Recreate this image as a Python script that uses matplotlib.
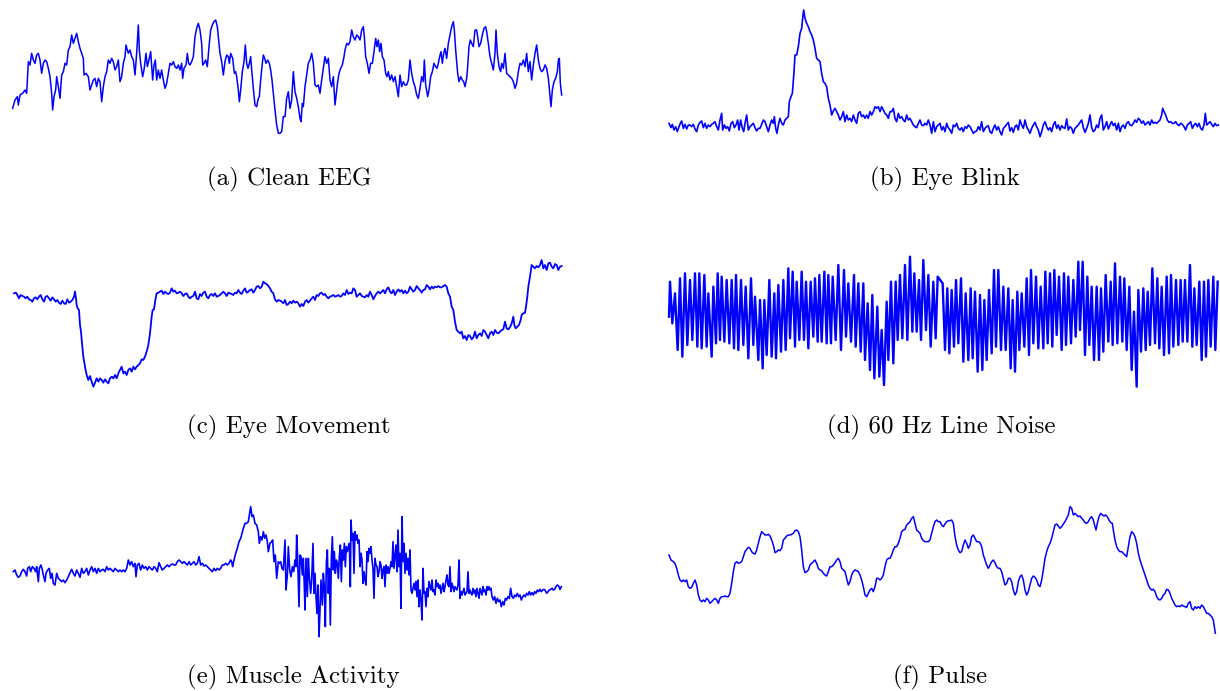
import matplotlib
matplotlib.use("Agg")
import matplotlib.pyplot as plt

# Each trace: (time, amplitude) samples (arbitrary units,
# amplitude grows downward as in screen units).
clean_eeg = [(8,295),(15,270),(22,260),(25,285),(30,255),(38,250),(45,240),(50,250),(55,155),(60,165),(65,130),(70,150),(75,160),(80,135),(85,130),(90,150),(95,190),(100,160),(105,150),(110,155),(115,175),(120,200),(125,250),(128,300),(132,260),(137,240),(140,200),(145,230),(150,265),(155,195),(160,185),(165,160),(170,165),(175,120),(180,110),(185,75),(190,100),(195,85),(200,70),(205,95),(210,115),(215,130),(220,145),(222,195),(228,190),(235,200),(240,240),(245,225),(250,210),(255,205),(260,230),(265,205),(270,215),(275,275),(280,230),(285,200),(290,185),(295,150),(300,160),(305,145),(310,155),(315,180),(320,170),(325,150),(330,215),(335,200),(340,160),(345,140),(348,105),(355,130),(360,120),(365,140),(370,150),(375,195),(380,130),(385,45),(388,120),(392,160),(398,200),(402,180),(408,130),(412,170),(418,145),(422,125),(428,210),(432,165),(436,150),(440,210),(445,180),(450,205),(455,180),(460,210),(465,235),(470,220),(475,190),(480,160),(485,165),(490,155),(495,170),(500,175),(505,165),(510,180),(515,160),(518,205),(522,175),(528,165),(532,130),(536,160),(540,165),(545,155),(550,140),(555,80),(560,55),(565,40),(570,60),(575,100),(578,165),(582,160),(587,150),(592,170),(597,110),(602,60),(607,45),(612,35),(617,30),(622,50),(626,90),(630,130),(635,155),(640,195),(645,155),(650,135),(655,140),(658,160),(662,130),(668,145),(673,190),(677,185),(680,200),(685,240),(688,275),(692,240),(697,185),(702,155),(706,105),(710,160),(714,175),(718,160),(722,140),(725,180),(730,235),(735,285),(740,290),(745,265),(748,260),(752,210),(757,160),(760,135),(764,145),(768,160),(773,150),(778,160),(782,180),(786,210),(790,250),(795,300),(800,345),(805,370),(810,370),(815,365),(820,320),
(825,320),(830,265),(835,245),(840,295),(845,270),(850,185),(855,245),(860,265),(865,290),(870,325),(873,335),(877,280),(880,290),(885,230),(890,195),(895,160),(900,150),(905,130),(910,160),(915,225),(920,230),(925,225),(930,250),(935,210),(940,175),(945,140),(950,160),(955,145),(960,210),(965,230),(970,200),(975,285),(980,240),(983,215),(987,190),(992,175),(997,165),(1002,140),(1005,120),(1010,100),(1015,105),(1020,95),(1025,60),(1030,80),(1035,90),(1040,75),(1045,80),(1050,90),(1055,60),(1060,50),(1063,80),(1067,140),(1072,160),(1077,190),(1082,160),(1087,160),(1092,125),(1097,85),(1101,110),(1105,90),(1109,125),(1113,100),(1117,140),(1122,150),(1127,190),(1131,200),(1135,185),(1140,210),(1145,195),(1150,215),(1155,200),(1160,230),(1165,260),(1170,195),(1175,230),(1180,215),(1185,225),(1190,225),(1195,210),(1200,150),(1205,190),(1210,215),(1215,230),(1220,255),(1225,265),(1230,235),(1235,200),(1240,215),(1243,150),(1247,225),(1253,260),(1257,240),(1262,200),(1267,185),(1272,160),(1277,170),(1281,175),(1285,160),(1289,140),(1293,125),(1297,160),(1301,130),(1305,115),(1310,145),(1315,100),(1320,75),(1325,50),(1330,35),(1333,60),(1337,120),(1343,190),(1347,215),(1352,200),(1357,210),(1361,215),(1365,230),(1370,205),(1373,170),(1377,110),(1381,90),(1385,100),(1390,110),(1395,60),(1400,60),(1403,80),(1407,110),(1412,100),(1417,75),(1422,55),(1427,50),(1430,65),(1435,100),(1440,140),(1445,160),(1450,180),(1455,130),(1458,60),(1462,130),(1467,170),(1472,185),(1475,160),(1480,175),(1485,130),(1490,190),(1495,195),(1500,200),(1505,205),(1510,215),(1515,235),(1520,220),(1525,185),(1530,160),(1535,165),(1540,150),(1545,170),(1550,130),(1555,185),(1560,155),(1565,210),(1570,165),(1575,130),(1580,105),(1585,150),(1590,175),(1595,185),(1600,180),(1605,165),(1610,175),(1615,205),(1620,260),(1623,290),(1627,240),(1632,215),(1637,205),(1642,185),(1645,150),(1648,145),(1651,220),(1655,255)]

eye_blink = [(12,355),(18,368),(22,358),(27,375),(32,365),(37,380),(42,365),(46,355),(50,348),(55,370),(60,358),(65,372),(70,360),(75,360),(80,365),(85,358),(90,372),(95,380),(100,360),(105,352),(110,348),(115,368),(120,355),(125,370),(130,360),(135,365),(140,358),(145,355),(150,350),(155,365),(160,375),(165,345),(170,325),(173,375),(178,360),(183,370),(188,365),(193,378),(198,355),(203,350),(208,368),(213,360),(218,345),(222,375),(227,345),(232,370),(236,380),(240,355),(245,330),(250,375),(255,365),(260,360),(265,355),(270,368),(275,378),(280,370),(285,370),(290,358),(295,345),(300,350),(305,365),(310,380),(315,360),(320,345),(325,355),(328,335),(332,370),(336,385),(340,360),(345,340),(350,355),(355,360),(360,345),(365,340),(370,335),(373,290),(378,275),(382,265),(386,215),(390,150),(395,150),(400,125),(405,85),(410,70),(413,40),(416,15),(420,40),(425,55),(430,65),(435,80),(440,90),(445,105),(450,130),(455,160),(460,165),(465,170),(470,205),(475,230),(480,235),(485,245),(490,280),(495,300),(500,330),(505,318),(510,310),(515,320),(520,330),(525,345),(530,335),(535,320),(540,350),(545,330),(550,345),(555,340),(560,350),(565,330),(570,345),(575,355),(580,325),(585,320),(590,335),(595,330),(600,340),(605,330),(610,340),(615,320),(620,330),(625,320),(630,305),(635,310),(640,305),(645,320),(650,305),(655,315),(660,325),(665,330),(670,340),(675,320),(680,320),(685,310),(690,340),(695,350),(700,325),(705,340),(710,335),(715,345),(720,350),(725,330),(730,345),(735,340),(740,350),(745,360),(750,365),(755,368),(760,355),(765,345),(770,360),(775,362),(780,355),(785,360),(790,345),(795,360),(800,385),(805,350),(810,380),(815,365),(820,360),
(825,355),(830,375),(835,365),(840,380),(845,355),(850,368),(855,375),(860,385),(865,360),(870,365),(875,355),(880,370),(885,375),(890,368),(895,380),(900,365),(905,370),(910,360),(915,365),(920,375),(925,385),(930,380),(935,378),(940,365),(945,375),(950,350),(955,380),(960,370),(965,365),(970,362),(975,380),(980,385),(985,370),(990,360),(995,375),(1000,365),(1005,380),(1010,390),(1015,370),(1020,365),(1025,358),(1030,352),(1035,378),(1040,368),(1045,382),(1050,365),(1055,360),(1060,375),(1065,345),(1070,360),(1075,370),(1080,345),(1085,365),(1090,375),(1095,385),(1100,370),(1105,360),(1110,352),(1115,365),(1120,375),(1125,395),(1130,380),(1135,360),(1140,350),(1145,365),(1150,375),(1155,368),(1160,380),(1165,360),(1170,350),(1175,370),(1180,360),(1185,375),(1190,362),(1195,368),(1200,370),(1205,342),(1210,375),(1215,365),(1220,370),(1225,385),(1230,370),(1235,365),(1240,360),(1245,352),(1250,345),(1255,368),(1260,382),(1265,370),(1270,355),(1275,330),(1280,368),(1285,380),(1290,375),(1295,360),(1300,368),(1305,340),(1310,330),(1315,375),(1320,365),(1325,350),(1330,372),(1335,360),(1340,350),(1345,362),(1350,355),(1355,375),(1360,355),(1365,380),(1370,365),(1375,360),(1380,370),(1385,355),(1390,350),(1395,360),(1400,362),(1405,355),(1410,345),(1415,352),(1420,340),(1425,345),(1430,355),(1435,348),(1440,360),(1445,355),(1450,350),(1455,360),(1460,345),(1465,355),(1470,352),(1475,355),(1480,350),(1485,345),(1490,330),(1493,310),(1497,320),(1502,330),(1507,345),(1512,352),(1517,350),(1522,355),(1527,355),(1532,350),(1537,358),(1542,362),(1547,355),(1552,358),(1557,365),(1562,375),(1567,360),(1572,355),(1577,350),(1582,370),(1587,360),(1592,355),(1597,365),(1602,355),(1607,370),(1612,375),(1617,360),(1621,325),(1625,360),(1630,355),(1635,350),(1640,358),(1645,365),(1650,355),(1655,362),(1660,360)]

eye_movement = [(12,130),(18,128),(22,135),(27,145),(32,135),(37,138),(42,140),(47,145),(52,140),(57,148),(62,150),(67,155),(72,145),(77,142),(82,148),(87,140),(92,135),(97,148),(102,155),(107,140),(112,138),(117,145),(122,152),(127,142),(132,148),(137,155),(142,150),(147,158),(152,162),(157,152),(162,160),(167,162),(172,148),(177,158),(182,155),(187,150),(192,140),(195,125),(198,145),(200,165),(203,175),(207,180),(210,225),(213,245),(216,280),(220,320),(225,350),(230,375),(235,390),(240,378),(245,395),(250,410),(255,398),(260,385),(265,395),(270,385),(275,390),(280,398),(285,388),(290,395),(295,400),(300,385),(305,380),(310,385),(315,375),(320,385),(325,370),(330,360),(335,350),(340,370),(345,365),(350,375),(355,360),(360,355),(365,365),(370,350),(375,358),(380,350),(385,345),(390,340),(395,328),(400,330),(405,320),(410,305),(415,285),(420,250),(425,200),(428,180),(432,178),(436,150),(440,130),(445,128),(450,125),(455,122),(460,132),(465,125),(470,130),(475,132),(480,128),(485,115),(490,125),(495,122),(500,130),(505,128),(510,125),(515,130),(520,138),(525,132),(530,130),(535,140),(540,145),(545,140),(550,138),(555,125),(560,145),(565,148),(570,132),(575,138),(580,128),(585,125),(590,140),(595,145),(600,135),(605,132),(610,138),(615,130),(620,140),(625,138),(630,135),(635,130),(640,125),(645,130),(650,138),(655,128),(660,130),(665,132),(670,135),(675,128),(680,130),(685,120),(690,128),(695,132),(700,122),(705,115),(710,128),(715,125),(720,120),(725,118),(730,128),(735,120),(740,110),(745,108),(750,115),(755,110),(760,95),(765,100),(770,102),(775,108),(780,115),(785,125),(790,130),(795,148),(800,155),(805,150),(810,152),(815,155),(820,160),
(825,150),(830,165),(835,162),(840,155),(845,160),(850,152),(855,158),(860,155),(865,160),(870,170),(875,162),(880,168),(885,155),(890,150),(895,158),(900,152),(905,145),(910,140),(915,150),(920,135),(925,138),(930,130),(935,128),(940,135),(945,132),(950,140),(955,145),(960,140),(965,138),(970,135),(975,140),(980,138),(985,135),(990,140),(995,138),(1000,130),(1005,135),(1010,120),(1015,132),(1020,128),(1025,130),(1030,115),(1035,120),(1040,140),(1045,135),(1050,130),(1055,138),(1060,140),(1065,142),(1070,135),(1075,140),(1080,125),(1085,135),(1090,148),(1095,138),(1100,130),(1105,125),(1110,130),(1115,125),(1120,120),(1125,130),(1130,118),(1135,112),(1140,125),(1145,130),(1150,120),(1155,135),(1160,125),(1165,118),(1170,125),(1175,120),(1180,130),(1185,122),(1190,130),(1195,125),(1200,110),(1205,118),(1210,125),(1215,120),(1220,108),(1225,115),(1230,120),(1235,128),(1240,120),(1245,118),(1250,105),(1255,110),(1260,118),(1265,110),(1270,115),(1275,110),(1280,112),(1285,108),(1290,112),(1295,112),(1300,108),(1305,105),(1310,110),(1315,130),(1320,140),(1325,170),(1330,180),(1335,215),(1340,240),(1345,245),(1350,250),(1355,245),(1360,265),(1365,258),(1370,270),(1375,255),(1380,258),(1385,268),(1390,262),(1395,245),(1400,265),(1405,255),(1410,250),(1415,258),(1420,240),(1425,245),(1430,255),(1435,265),(1440,250),(1445,245),(1450,255),(1455,240),(1460,248),(1465,250),(1470,245),(1475,240),(1480,238),(1485,215),(1490,235),(1495,238),(1500,232),(1505,220),(1510,200),(1513,225),(1517,235),(1522,230),(1527,225),(1532,210),(1535,195),(1540,190),(1545,188),(1548,170),(1552,140),(1555,110),(1560,80),(1565,45),(1570,50),(1575,55),(1580,48),(1585,52),(1590,45),(1595,30),(1600,55),(1605,45),(1610,60),(1615,40),(1620,38),(1625,50),(1630,55),(1635,42),(1640,45),(1645,60),(1650,50),(1655,48)]

line_noise_peaks = [(15,95),(30,130),(45,85),(60,70),(75,90),(90,70),(103,70),(118,75),(130,130),(145,110),(158,70),(170,80),(185,90),(200,90),(213,75),(228,90),(242,110),(258,85),(270,140),(285,150),(298,150),(313,90),(328,130),(340,105),(355,90),(370,55),(383,65),(395,95),(410,65),(423,95),(437,95),(450,85),(463,75),(478,65),(490,75),(503,80),(520,45),(537,60),(550,100),(567,75),(580,100),(595,100),(608,160),(622,135),(637,170),(650,240),(665,155),(678,95),(692,95),(705,75),(720,45),(735,20),(748,70),(762,90),(775,30),(790,75),(805,95),(818,80),
(833,100),(847,115),(860,120),(873,90),(888,85),(902,130),(917,115),(930,125),(945,135),(958,150),(972,120),(987,60),(1000,60),(1015,110),(1030,115),(1043,150),(1057,125),(1070,130),(1085,85),(1098,60),(1113,80),(1127,110),(1141,65),(1155,70),(1168,60),(1182,80),(1197,70),(1210,80),(1225,90),(1240,35),(1253,35),(1267,80),(1280,110),(1295,110),(1308,115),(1322,75),(1337,95),(1350,40),(1365,80),(1378,85),(1393,110),(1407,185),(1420,120),(1435,115),(1448,125),(1462,55),(1477,85),(1490,110),(1505,80),(1518,75),(1533,90),(1547,90),(1560,90),(1575,45),(1588,115),(1603,95),(1617,95),(1630,90),(1645,80),(1658,95)]

line_noise_troughs = [(12,200),(22,220),(38,300),(52,320),(67,285),(82,270),(97,290),(110,295),(125,290),(140,320),(153,280),(165,270),(178,275),(193,280),(207,295),(220,300),(235,285),(250,325),(265,285),(280,330),(293,355),(305,315),(320,320),(333,325),(348,305),(362,300),(375,265),(390,290),(403,270),(417,270),(430,295),(445,260),(458,275),(470,275),(485,280),(498,280),(512,270),(528,300),(543,260),(558,275),(572,290),(587,305),(600,330),(615,360),(628,385),(643,380),(657,405),(670,330),(685,340),(698,270),(712,265),(727,270),(742,245),(755,245),(768,270),(783,240),(797,290),(812,265),
(840,300),(853,310),(867,290),(880,280),(895,335),(910,330),(923,325),(938,365),(952,360),(965,330),(980,310),(993,290),(1008,300),(1022,300),(1037,355),(1050,365),(1063,300),(1078,290),(1092,315),(1105,280),(1120,295),(1135,295),(1148,280),(1162,290),(1175,255),(1190,300),(1203,285),(1218,280),(1232,260),(1245,240),(1260,315),(1273,285),(1287,330),(1302,330),(1315,305),(1330,275),(1343,285),(1357,280),(1372,275),(1385,300),(1400,360),(1415,410),(1428,305),(1442,300),(1455,285),(1470,280),(1483,295),(1497,315),(1512,310),(1525,290),(1540,285),(1553,275),(1567,275),(1582,290),(1595,285),(1610,330),(1623,320),(1637,290),(1651,300)]

muscle = [(10,215),(15,210),(20,225),(25,232),(30,228),(35,215),(40,208),(45,215),(50,228),(53,205),(58,200),(62,215),(67,200),(72,205),(77,215),(80,200),(85,245),(88,205),(93,195),(97,210),(100,225),(105,245),(108,220),(113,210),(118,205),(122,235),(126,220),(130,250),(135,255),(140,220),(145,235),(150,240),(155,245),(160,240),(165,248),(170,240),(175,230),(180,218),(185,208),(190,220),(195,228),(200,210),(205,220),(210,232),(215,205),(220,220),(225,215),(230,205),(235,225),(240,210),(245,200),(250,215),(255,205),(260,220),(265,205),(270,215),(275,210),(280,208),(285,215),(290,200),(295,210),(300,205),(305,210),(310,215),(315,205),(320,210),(325,215),(330,210),(335,215),(340,210),(345,215),(350,205),(355,180),(360,195),(365,185),(370,200),(375,190),(378,230),(382,195),(387,190),(392,210),(397,195),(402,205),(407,200),(412,210),(417,200),(422,205),(427,210),(432,200),(437,205),(442,215),(447,188),(452,200),(457,210),(462,205),(467,200),(472,195),(477,200),(482,195),(487,192),(492,195),(497,195),(502,185),(507,180),(512,185),(517,190),(522,185),(527,190),(532,195),(537,185),(542,195),(547,190),(552,185),(557,195),(562,190),(567,170),(572,195),(577,190),(582,198),(587,195),(592,200),(597,205),(602,210),(607,215),(612,205),(617,212),(622,205),(627,210),(632,205),(637,195),(642,195),(647,190),(652,195),(657,190),(662,180),(665,185),(668,200),(672,180),(677,160),(682,145),(687,125),(692,115),(696,100),(700,85),(705,70),(710,70),(715,65),(718,45),(722,20),(726,50),(730,45),(735,70),(740,75),(745,95),(748,130),(752,110),(756,120),(760,95),(764,115),(768,105),(772,125),(775,155),(780,130),(785,125),(788,120),(792,185),(796,165),(800,235),(805,185),(808,190),(812,185),(816,205),(820,210),
(825,120),(828,270),(832,225),(835,140),(839,210),(843,230),(847,200),(851,215),(855,180),(858,200),(860,105),(863,175),(867,320),(870,165),(873,170),(877,225),(880,175),(883,260),(885,330),(888,175),(892,290),(895,175),(898,230),(902,280),(905,240),(909,130),(912,280),(915,220),(918,290),(921,340),(924,255),(927,410),(930,330),(933,240),(937,315),(940,220),(943,260),(946,380),(949,190),(952,150),(955,280),(958,205),(961,375),(964,180),(967,110),(970,210),(973,155),(976,220),(979,180),(982,190),(985,235),(988,170),(991,135),(994,245),(997,150),(1000,180),(1003,130),(1006,200),(1009,140),(1012,155),(1015,140),(1018,130),(1021,260),(1023,60),(1026,120),(1029,100),(1032,220),(1035,95),(1038,120),(1041,105),(1044,130),(1047,120),(1050,200),(1053,160),(1056,180),(1059,250),(1062,215),(1065,240),(1068,255),(1071,155),(1074,185),(1077,145),(1080,160),(1083,140),(1086,180),(1089,205),(1092,295),(1095,175),(1098,195),(1101,200),(1104,230),(1107,215),(1110,185),(1113,195),(1116,235),(1119,210),(1122,200),(1125,260),(1128,195),(1131,220),(1134,200),(1137,220),(1140,205),(1143,185),(1146,200),(1149,125),(1152,205),(1155,170),(1158,135),(1161,215),(1164,90),(1167,200),(1170,160),(1173,325),(1176,50),(1179,185),(1182,130),(1185,220),(1188,160),(1191,210),(1194,175),(1197,225),(1200,150),(1203,270),(1206,280),(1209,265),(1212,250),(1215,270),(1218,245),(1221,290),(1224,240),(1227,320),(1230,270),(1233,300),(1236,360),(1239,205),(1242,280),(1245,275),(1248,320),(1251,265),(1254,290),(1257,245),(1260,260),(1263,270),(1266,240),(1269,275),(1272,270),(1275,285),(1278,240),(1281,260),(1284,250),(1287,265),(1290,255),(1293,280),(1296,265),(1299,250),(1302,275),(1305,260),(1308,240),(1311,225),(1314,255),(1317,260),(1320,200),(1323,275),(1326,250),(1329,260),(1332,275),(1335,260),(1338,265),(1341,270),(1344,255),(1347,180),(1350,295),(1353,275),(1356,285),(1359,275),(1362,265),(1365,285),(1368,280),(1371,275),(1374,215),(1377,280),(1380,270),(1383,280),(1386,285),(1389,265),(1392,280),(1395,270),(1398,290),(1401,265),(1404,280),(1407,295),(1410,265),(1413,275),(1416,285),(1419,260),(1422,275),(1425,270),(1428,285),(1431,260),(1434,270),(1437,260),(1440,270),(1443,265),(1446,290),(1450,300),(1454,290),(1458,310),(1462,295),(1466,305),(1470,300),(1474,320),(1478,305),(1482,315),(1486,295),(1490,300),(1494,290),(1498,295),(1502,265),(1506,290),(1510,295),(1514,285),(1518,290),(1522,280),(1526,290),(1530,285),(1534,300),(1538,290),(1542,285),(1546,290),(1550,280),(1554,285),(1558,275),(1562,285),(1566,278),(1570,285),(1574,275),(1578,280),(1582,270),(1586,275),(1590,268),(1594,275),(1598,270),(1602,268),(1606,272),(1610,280),(1614,275),(1618,270),(1622,268),(1626,265),(1630,270),(1634,268),(1638,260),(1642,255),(1646,258),(1650,268),(1654,260)]

pulse = [(12,165),(18,180),(25,185),(30,190),(35,205),(40,225),(45,240),(50,245),(55,240),(60,245),(65,240),(70,260),(75,265),(80,262),(85,250),(90,240),(95,255),(100,285),(105,300),(110,305),(115,300),(120,305),(125,295),(130,300),(135,310),(140,305),(145,300),(150,295),(155,300),(160,310),(165,295),(170,290),(175,290),(180,288),(185,290),(190,290),(195,280),(200,250),(205,215),(210,190),(215,185),(220,190),(225,188),(230,185),(235,170),(240,155),(245,148),(250,142),(255,145),(260,155),(265,160),(270,162),(275,150),(280,130),(285,110),(290,95),(295,100),(300,105),(305,105),(310,103),(315,108),(320,120),(325,135),(330,158),(335,155),(340,150),(345,152),(350,145),(355,120),(360,115),(365,108),(370,105),(375,105),(380,103),(385,100),(390,92),(395,90),(400,95),(405,110),(410,150),(415,200),(420,218),(425,215),(430,210),(435,195),(440,190),(445,185),(450,180),(455,190),(460,205),(465,210),(470,212),(475,220),(480,225),(485,228),(490,215),(495,200),(500,200),(505,195),(510,188),(515,180),(520,175),(525,185),(530,205),(535,210),(540,215),(545,235),(550,255),(555,245),(560,225),(565,215),(570,210),(575,212),(580,215),(585,225),(590,240),(595,260),(600,285),(605,290),(610,280),(615,270),(620,265),(625,275),(630,260),(635,235),(640,235),(645,240),(650,235),(655,225),(660,200),(665,180),(670,175),(675,175),(680,165),(685,150),(690,140),(695,140),(700,130),(705,115),(710,95),(715,90),(720,88),(725,75),(730,70),(735,65),(740,55),(745,50),(750,70),(755,90),(760,95),(765,100),(770,115),(775,122),(780,125),(785,125),(790,125),(795,120),(800,100),(805,80),(810,65),(815,60),(820,65),
(825,65),(830,75),(835,80),(840,72),(845,65),(850,62),(855,62),(860,60),(865,70),(870,110),(875,135),(880,150),(885,158),(890,155),(895,135),(900,120),(905,130),(910,145),(915,135),(920,110),(925,105),(930,115),(935,125),(940,125),(945,128),(950,140),(955,165),(960,180),(965,195),(970,205),(975,195),(980,185),(985,180),(990,188),(995,200),(1000,205),(1005,205),(1010,215),(1015,235),(1020,255),(1025,250),(1030,235),(1035,235),(1040,245),(1045,270),(1050,285),(1055,275),(1060,245),(1065,230),(1070,225),(1075,240),(1080,270),(1085,285),(1090,275),(1095,255),(1100,235),(1105,228),(1110,232),(1115,240),(1120,255),(1125,260),(1130,240),(1135,210),(1140,175),(1145,155),(1150,140),(1155,130),(1160,115),(1165,95),(1170,75),(1175,72),(1180,78),(1185,85),(1190,80),(1195,72),(1200,65),(1205,55),(1210,45),(1215,20),(1220,25),(1225,45),(1230,40),(1235,45),(1240,50),(1245,48),(1250,55),(1255,60),(1260,68),(1265,70),(1270,65),(1275,55),(1280,50),(1285,60),(1290,80),(1293,90),(1297,70),(1302,50),(1307,40),(1312,45),(1317,48),(1322,45),(1327,50),(1332,60),(1337,68),(1342,70),(1345,90),(1350,120),(1355,140),(1360,150),(1365,155),(1370,155),(1375,160),(1380,165),(1385,170),(1390,140),(1395,110),(1400,95),(1405,100),(1410,110),(1415,130),(1420,160),(1425,180),(1430,195),(1435,210),(1440,225),(1445,240),(1450,255),(1455,265),(1460,270),(1465,268),(1470,275),(1475,290),(1480,298),(1485,300),(1490,295),(1495,285),(1500,280),(1505,268),(1510,270),(1515,280),(1520,295),(1525,305),(1530,315),(1535,320),(1540,318),(1545,320),(1550,315),(1555,318),(1560,320),(1565,322),(1570,310),(1575,305),(1580,325),(1585,330),(1590,320),(1595,325),(1600,320),(1605,325),(1610,315),(1615,320),(1620,330),(1625,340),(1630,340),(1635,345),(1640,350),(1645,360),(1648,380),(1651,400)]

captions = ["(a) Clean EEG", "(b) Eye Blink", "(c) Eye Movement",
            "(d) 60 Hz Line Noise", "(e) Muscle Activity", "(f) Pulse"]

line_noise = sorted(line_noise_peaks + line_noise_troughs)
traces = [clean_eeg, eye_blink, eye_movement, line_noise, muscle, pulse]
widths = [1.1, 1.2, 1.3, 1.7, 1.2, 1.1]

W, H = 1220, 691
fig = plt.figure(figsize=(W / 100, H / 100), dpi=100)

# panel boxes in pixels: left, top, height ; width 555 px
boxes = [(10, 10, 130), (665, 5, 135), (10, 250, 140),
         (665, 250, 140), (10, 500, 140), (665, 500, 140)]
cap_xy = [(289, 179), (945, 179), (289, 427), (941, 427), (293, 677), (940, 677)]

for tr, lw, (L, T, h), cap, (cx, cy) in zip(traces, widths, boxes, captions, cap_xy):
    ax = fig.add_axes([L / W, 1 - (T + h) / H, 555 / W, h / H])
    t = [p[0] for p in tr]
    v = [p[1] for p in tr]
    ax.plot(t, v, color="#0000ff", lw=lw, solid_joinstyle="round")
    ax.set_xlim(0, 1665)
    ax.set_ylim(3 * h, 0)
    ax.axis("off")
    fig.text(cx / W, 1 - cy / H, cap, ha="center", va="center",
             family="cmr10", fontsize=18)

fig.savefig("out.png", dpi=100)
